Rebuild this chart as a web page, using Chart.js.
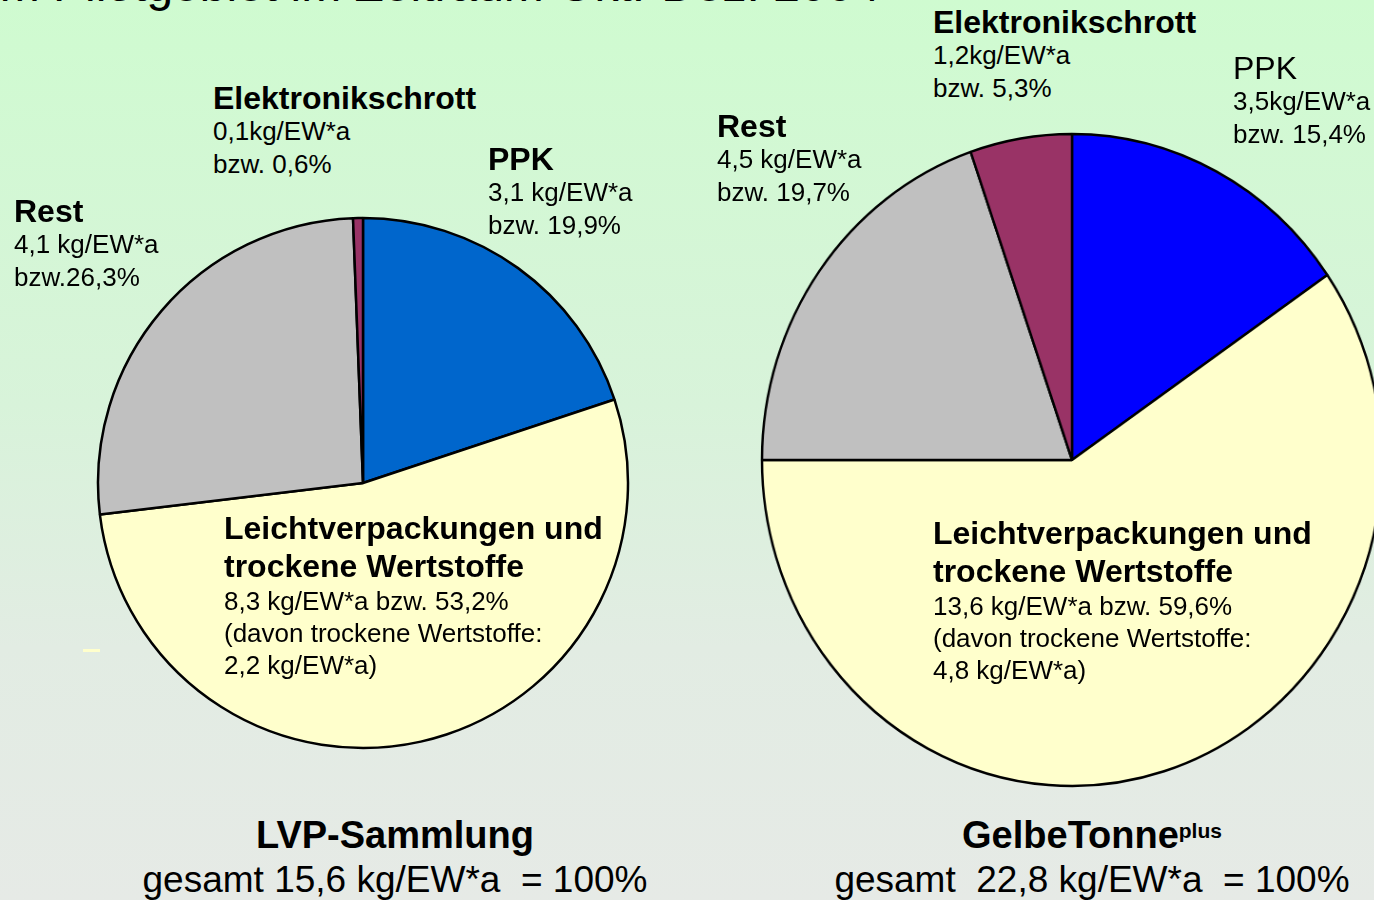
<!DOCTYPE html>
<html>
<head>
<meta charset="utf-8">
<script src="https://cdn.jsdelivr.net/npm/chart.js@4.4.1/dist/chart.umd.min.js"></script>
<style>
html, body { margin: 0; padding: 0; }
body {
    width: 1374px; height: 900px; overflow: hidden; position: relative;
    background: linear-gradient(to bottom, #cffbd0 0%, #d8f3da 45%, #e2ece3 72%, #e6eae6 100%);
    font-family: "Liberation Sans", Arial, sans-serif; color: #000;
}
.title { position: absolute; right: 494px; top: -39px; font-size: 48px; line-height: 48px; white-space: pre; }
.lbl { position: absolute; white-space: pre; }
.lbl b { display: block; font-size: 32px; line-height: 34px; }
.lbl span { display: block; font-size: 26px; line-height: 33px; }
.lbl .big { font-size: 32px; line-height: 34px; }
.lvp b { line-height: 38px; }
.lvp span { line-height: 32px; }
.foot { position: absolute; top: 813px; width: 600px; text-align: center; white-space: pre; }
.foot b { display: block; font-size: 38px; line-height: 44px; }
.foot b sup { font-size: 21px; vertical-align: 10px; line-height: 0; }
.foot span { display: block; font-size: 37px; line-height: 46px; }
#chart-lvp { position: absolute; left: 93px; top: 213px; }
#wrap-gt { position: absolute; left: 732px; top: 120px; width: 680px; height: 680px; transform: scaleX(0.951); transform-origin: 340px 340px; }
.dash { position: absolute; left: 83px; top: 649px; width: 17px; height: 3px; background: #ffffcc; }
</style>
</head>
<body>
<div class="title">im Pilotgebiet im Zeitraum Okt.-Dez. 2004</div>

<canvas id="chart-lvp" width="540" height="540"></canvas>
<div id="wrap-gt"><canvas id="chart-gelbetonne" width="680" height="680"></canvas></div>

<!-- labels left pie -->
<div class="lbl" style="left:213px;top:81px"><b>Elektronikschrott</b><span>0,1kg/EW*a</span><span>bzw. 0,6%</span></div>
<div class="lbl" style="left:488px;top:142px"><b>PPK</b><span>3,1 kg/EW*a</span><span>bzw. 19,9%</span></div>
<div class="lbl" style="left:14px;top:194px"><b>Rest</b><span>4,1 kg/EW*a</span><span>bzw.26,3%</span></div>
<div class="lbl lvp" style="left:224px;top:509px"><b>Leichtverpackungen und</b><b>trockene Wertstoffe</b><span>8,3 kg/EW*a bzw. 53,2%</span><span>(davon trockene Wertstoffe:</span><span>2,2 kg/EW*a)</span></div>

<!-- labels right pie -->
<div class="lbl" style="left:933px;top:5px"><b>Elektronikschrott</b><span>1,2kg/EW*a</span><span>bzw. 5,3%</span></div>
<div class="lbl" style="left:1233px;top:51px"><span class="big">PPK</span><span>3,5kg/EW*a</span><span>bzw. 15,4%</span></div>
<div class="lbl" style="left:717px;top:109px"><b>Rest</b><span>4,5 kg/EW*a</span><span>bzw. 19,7%</span></div>
<div class="lbl lvp" style="left:933px;top:514px"><b>Leichtverpackungen und</b><b>trockene Wertstoffe</b><span>13,6 kg/EW*a bzw. 59,6%</span><span>(davon trockene Wertstoffe:</span><span>4,8 kg/EW*a)</span></div>

<div class="dash"></div>

<div class="foot" style="left:95px"><b>LVP-Sammlung</b><span>gesamt 15,6 kg/EW*a  = 100%</span></div>
<div class="foot" style="left:792px"><b>GelbeTonne<sup>plus</sup></b><span>gesamt  22,8 kg/EW*a  = 100%</span></div>

<script>
// Anteile in % (Reihenfolge im Uhrzeigersinn ab 12 Uhr)
const categories = ['PPK', 'Leichtverpackungen und trockene Wertstoffe', 'Rest', 'Elektronikschrott'];
const lvpPercent = [19.9, 53.2, 26.3, 0.6];
const gelbeTonnePercent = [15.4, 59.6, 19.7, 5.3];

const ctxLvp = document.getElementById('chart-lvp').getContext('2d');
const myChartLvp = new Chart(ctxLvp, {
    type: 'pie',
    data: {
        labels: categories,
        datasets: [{
            data: lvpPercent,
            backgroundColor: ['#0066cc', '#ffffcc', '#c0c0c0', '#993366'],
            borderColor: '#000000',
            borderWidth: 2.5
        }]
    },
    options: {
        responsive: false,
        animation: false,
        radius: 265,
        plugins: {
            legend: { display: false },
            tooltip: { enabled: false }
        }
    }
});

const ctxGelbeTonne = document.getElementById('chart-gelbetonne').getContext('2d');
const myChartGelbeTonne = new Chart(ctxGelbeTonne, {
    type: 'pie',
    data: {
        labels: categories,
        datasets: [{
            data: gelbeTonnePercent,
            backgroundColor: ['#0000ff', '#ffffcc', '#c0c0c0', '#993366'],
            borderColor: '#000000',
            borderWidth: 2.5
        }]
    },
    options: {
        responsive: false,
        animation: false,
        radius: 326,
        plugins: {
            legend: { display: false },
            tooltip: { enabled: false }
        }
    }
});
</script>
</body>
</html>
